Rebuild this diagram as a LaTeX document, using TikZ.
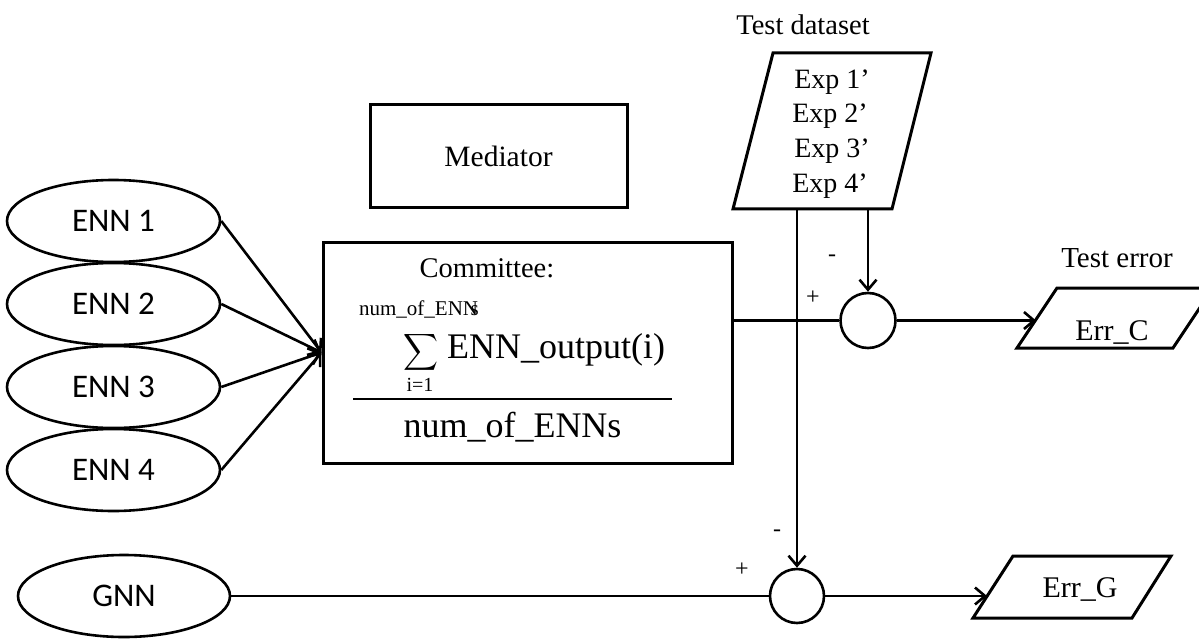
\documentclass[tikz,border=0pt]{standalone}
\usepackage{graphicx}
\usepackage{fontspec}
\setmainfont{Liberation Serif}
\newfontfamily\calibrifont{Carlito}
\usetikzlibrary{arrows.meta,calc,shapes.geometric}

\begin{document}
\begin{tikzpicture}[x=1pt,y=-1pt,
  line width=2.6pt,
  netnode/.style={ellipse, draw, minimum width=213pt, minimum height=82pt,
    inner sep=0pt, font=\calibrifont\fontsize{33}{33}\selectfont},
  procbox/.style={draw, line width=3pt, inner sep=0pt},
  summer/.style={circle, draw, minimum size=55pt, inner sep=0pt},
  txt/.style={inner sep=0pt, font=\fontsize{28.5}{28.5}\selectfont},
  sign/.style={inner sep=0pt, font=\fontsize{24}{24}\selectfont},
  conn/.style={-{Straight Barb[length=10pt,width=17pt,line width=2.6pt]}},
  ]
\useasboundingbox (0,0) rectangle (1199,639);

% ensemble members and the single network
\node[netnode] (enn1) at (113.5,221) {ENN 1};
\node[netnode] (enn2) at (113.5,304) {ENN 2};
\node[netnode] (enn3) at (113.5,387) {ENN 3};
\node[netnode] (enn4) at (113.5,470) {ENN 4};
\node[netnode, minimum width=212pt] (gnn) at (124,596) {GNN};

% mediator and committee
\node[procbox, minimum width=257pt, minimum height=103pt, txt, font=\fontsize{29.5}{29.5}\selectfont] (med) at (498.5,156.5) {Mediator};
\node[procbox, minimum width=409pt, minimum height=221pt] (comm) at (527.5,352.5) {};
\node[txt, anchor=base] (commtitle) at (487,277) {Committee:};
\node[inner sep=0pt, anchor=base, font=\fontsize{21}{21}\selectfont] (sumtop) at (419,315) {num\_of\_ENN\kern-.35em s};
\node[inner sep=0pt] (sigma) at (420.5,352) {\resizebox*{35pt}{41pt}{$\displaystyle\sum$}};
\node[inner sep=0pt, anchor=base, font=\fontsize{20}{20}\selectfont] (sumbot) at (420,391) {i=1};
\node[inner sep=0pt, anchor=base, font=\fontsize{36}{36}\selectfont] (numer) at (556,358) {ENN\_output(i)};
\draw[line width=1.5pt] (353,399) -- (672,399);
\node[inner sep=0pt, anchor=base, font=\fontsize{36}{36}\selectfont] (denom) at (512.5,437) {num\_of\_ENNs};

% test dataset
\node[txt, anchor=base] (tdlabel) at (803,35) {Test dataset};
\draw[line width=3pt] (773,53) -- (931,53) -- (892,209) -- (733,209) -- cycle;
\node[txt, anchor=base, font=\fontsize{28}{28}\selectfont] (exp1) at (832,89) {Exp 1’};
\node[txt, anchor=base, font=\fontsize{28}{28}\selectfont] (exp2) at (830,123) {Exp 2’};
\node[txt, anchor=base, font=\fontsize{28}{28}\selectfont] (exp3) at (832,158) {Exp 3’};
\node[txt, anchor=base, font=\fontsize{28}{28}\selectfont] (exp4) at (830,193) {Exp 4’};
\coordinate (tdL) at (797,209);
\coordinate (tdR) at (868,209);

% comparators
\node[summer] (sumC) at (868,320.5) {};
\node[summer, minimum size=54pt] (sumG) at (797,596) {};
\node[sign] (minC) at (832,258) {-};
\node[sign] (plusC) at (813,298) {+};
\node[sign] (minG) at (777,533) {-};
\node[sign] (plusG) at (742,570) {+};

% error outputs
\node[txt, anchor=base, font=\fontsize{29}{29}\selectfont] (telabel) at (1117,267) {Test error};
\draw[line width=3pt] (1057,288) -- (1213,288) -- (1173,348) -- (1017,348) -- cycle;
\node[txt, anchor=base, font=\fontsize{30}{30}\selectfont] (errC) at (1112,340) {Err\_C};
\coordinate (errCin) at (1036,320.5);
\draw[line width=3pt] (1013,556) -- (1171,556) -- (1132,618) -- (973,618) -- cycle;
\node[txt, anchor=base, font=\fontsize{30}{30}\selectfont] (errG) at (1080,597) {Err\_G};
\coordinate (errGin) at (987,596);

% connectors
\foreach \n in {enn1,enn2,enn3,enn4}
  \draw[conn] (\n.east) -- (comm.west);
\draw (comm.east |- sumC.west) -- (sumC.west);
\draw[conn] (tdR) -- (sumC.north);
\draw[conn] (tdL) -- (sumG.north);
\draw (gnn.east) -- (sumG.west);
\draw[conn] (sumC.east) -- (errCin);
\draw[conn] (sumG.east) -- (errGin);
\end{tikzpicture}
\end{document}
